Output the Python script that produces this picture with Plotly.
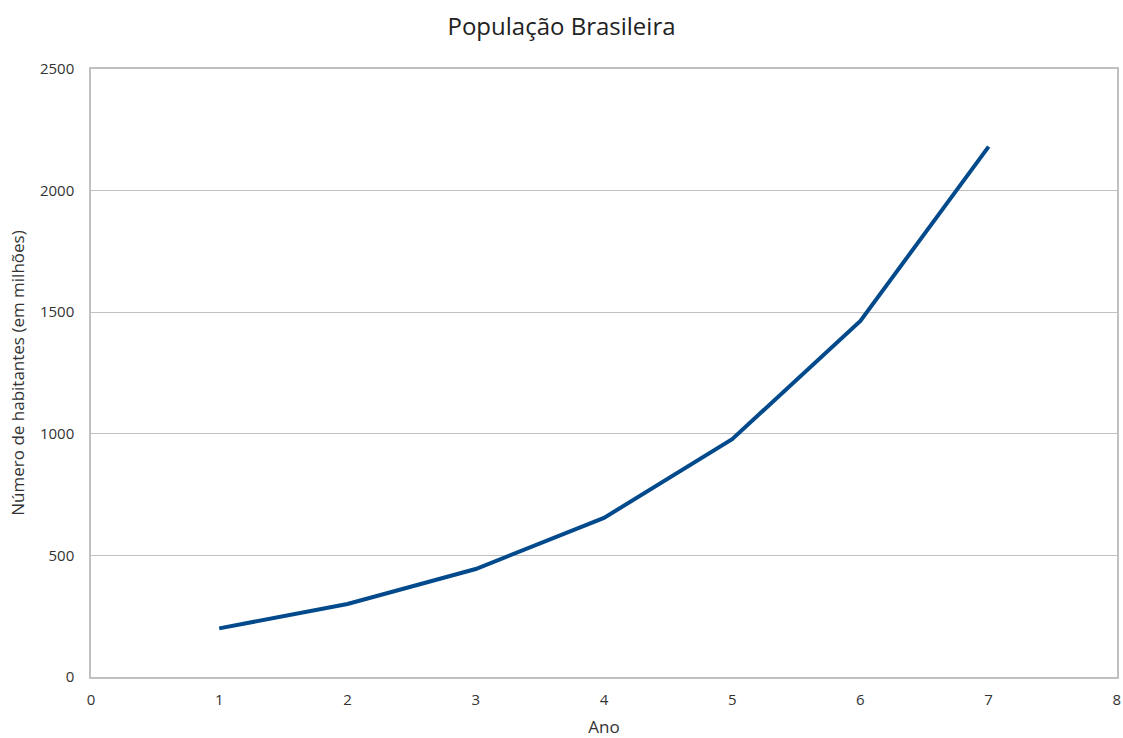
import plotly.graph_objects as go

anos = [1, 2, 3, 4, 5, 6, 7]
habitantes = [200, 300, 444, 654, 978, 1464, 2181]

fig = go.Figure()

fig.add_trace(go.Scatter(
    x=anos, y=habitantes,
    mode='lines',
    line=dict(color='#034a8c', width=4),
    showlegend=False,
))

tick_font = dict(family='Open Sans, Noto Sans, sans-serif', size=15, color='#333333')
title_font = dict(family='Open Sans, Noto Sans, sans-serif', size=17, color='#333333')

fig.update_layout(
    title=dict(
        text='População Brasileira',
        x=0.5, xanchor='center',
        y=0.9634, yanchor='middle',
        font=dict(family='Open Sans, Noto Sans, sans-serif', size=24, color='#222222'),
    ),
    width=1123, height=738,
    margin=dict(l=91, r=6, t=69, b=61),
    paper_bgcolor='white',
    plot_bgcolor='white',
    xaxis=dict(
        range=[0, 8.001], dtick=1, tick0=0,
        showgrid=False, zeroline=False, automargin=False,
        showline=True, linecolor='#c0c0c0', linewidth=1.5, mirror=True,
        ticks='', tickfont=tick_font, ticklabelstandoff=8,
        title=dict(text='Ano', font=title_font, standoff=17),
    ),
    yaxis=dict(
        range=[0, 2500], dtick=500, tick0=0,
        showgrid=True, gridcolor='#c0c0c0', gridwidth=1.3,
        zeroline=False, automargin=False,
        showline=True, linecolor='#c0c0c0', linewidth=1.5, mirror=True,
        ticks='', tickfont=tick_font, ticklabelstandoff=12,
        title=dict(text='Número de habitantes (em milhões)', font=title_font, standoff=11),
    ),
)

# page body has an 8px default margin; drop it so the figure fills the window
fig.write_html(
    'out.html',
    config={'displayModeBar': False},
    post_script="document.body.style.margin='0';",
)
